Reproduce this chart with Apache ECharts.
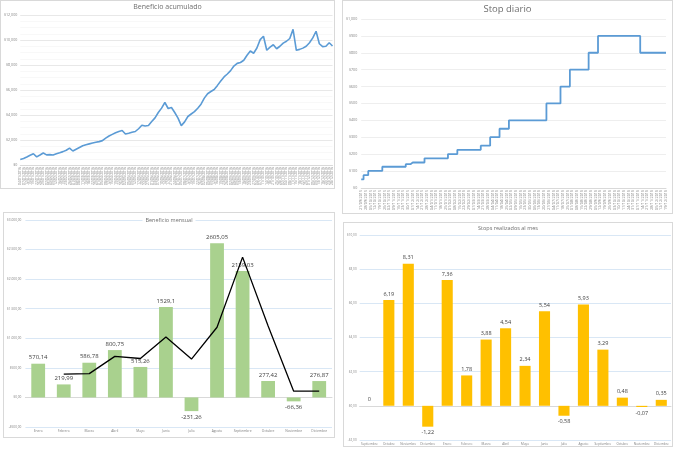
<!DOCTYPE html>
<html><head><meta charset="utf-8">
<script src="https://cdn.jsdelivr.net/npm/echarts@6/dist/echarts.min.js"></script>
<style>
body{margin:0;background:#fff;width:680px;height:451px;position:relative;overflow:hidden}
.p{position:absolute;box-sizing:border-box;border:1px solid #d9d9d9;background:#fff}
</style></head><body>
<div id="tl" class="p" style="left:0;top:0;width:335px;height:189px"></div>
<div id="tr" class="p" style="left:342px;top:0;width:331px;height:214px"></div>
<div id="bl" class="p" style="left:3px;top:212px;width:332px;height:226px"></div>
<div id="br" class="p" style="left:343px;top:222px;width:330px;height:225px"></div>
<script>
// ---------- Beneficio acumulado ----------
const accDates = [
"04/01/2016","07/01/2016","12/01/2016","15/01/2016","19/01/2016","22/01/2016","26/01/2016","29/01/2016",
"02/02/2016","05/02/2016","09/02/2016","12/02/2016","16/02/2016","19/02/2016","23/02/2016","26/02/2016",
"01/03/2016","04/03/2016","08/03/2016","11/03/2016","15/03/2016","18/03/2016","22/03/2016","29/03/2016",
"01/04/2016","05/04/2016","08/04/2016","12/04/2016","15/04/2016","19/04/2016","22/04/2016","26/04/2016",
"02/05/2016","05/05/2016","09/05/2016","12/05/2016","17/05/2016","20/05/2016","24/05/2016","27/05/2016",
"01/06/2016","03/06/2016","07/06/2016","10/06/2016","14/06/2016","17/06/2016","21/06/2016","24/06/2016",
"01/07/2016","05/07/2016","08/07/2016","12/07/2016","15/07/2016","19/07/2016","22/07/2016","26/07/2016",
"02/08/2016","05/08/2016","09/08/2016","12/08/2016","16/08/2016","19/08/2016","23/08/2016","26/08/2016",
"02/09/2016","06/09/2016","09/09/2016","13/09/2016","16/09/2016","20/09/2016","23/09/2016","27/09/2016",
"04/10/2016","07/10/2016","11/10/2016","14/10/2016","18/10/2016","21/10/2016","25/10/2016","28/10/2016",
"02/11/2016","04/11/2016","08/11/2016","11/11/2016","15/11/2016","18/11/2016","22/11/2016","25/11/2016",
"01/12/2016","05/12/2016","09/12/2016","13/12/2016","16/12/2016","20/12/2016","23/12/2016","28/12/2016"];
const accValues = [440,520,640,780,900,650,800,960,810,830,
800,900,980,1070,1180,1350,1120,1260,1400,1540,
1620,1690,1760,1820,1870,1950,2150,2320,2450,2580,
2680,2760,2480,2540,2620,2680,2900,3180,3120,3160,
3480,3770,4200,4550,5000,4520,4600,4200,3750,3150,
3450,3880,4080,4270,4540,4870,5350,5700,5880,6040,
6370,6720,7050,7280,7550,7920,8130,8200,8380,8780,
9120,8940,9360,10030,10300,9180,9430,9620,9300,9500,
9750,9900,10120,10850,9180,9250,9350,9500,9780,10170,
10700,9700,9470,9500,9780,9520];

// ---------- Stop diario ----------
const stopDates = [
"21/09/2015","28/09/2015","05/10/2015","12/10/2015","19/10/2015","26/10/2015","02/11/2015","09/11/2015",
"16/11/2015","23/11/2015","30/11/2015","07/12/2015","14/12/2015","21/12/2015","28/12/2015",
"04/01/2016","11/01/2016","18/01/2016","25/01/2016","01/02/2016","08/02/2016","15/02/2016","22/02/2016",
"29/02/2016","07/03/2016","14/03/2016","21/03/2016","28/03/2016","04/04/2016","11/04/2016","18/04/2016",
"25/04/2016","02/05/2016","09/05/2016","16/05/2016","23/05/2016","30/05/2016","06/06/2016","13/06/2016",
"20/06/2016","27/06/2016","04/07/2016","11/07/2016","18/07/2016","25/07/2016","01/08/2016","08/08/2016",
"15/08/2016","22/08/2016","29/08/2016","05/09/2016","12/09/2016","19/09/2016","26/09/2016","03/10/2016",
"10/10/2016","17/10/2016","24/10/2016","31/10/2016","07/11/2016","14/11/2016","21/11/2016","28/11/2016",
"05/12/2016","12/12/2016","19/12/2016"];
const stopValues = [50,75,100,100,100,125,125,125,125,125,140,150,150,150,
175,175,175,175,175,200,200,225,225,225,225,225,250,250,300,300,350,350,
400,400,400,400,400,400,400,400,500,500,500,600,600,700,700,700,700,
800,800,900,900,900,900,900,900,900,900,900,800,800,800,800,800,800];

// ---------- Beneficio mensual ----------
const months2016 = ["Enero","Febrero","Marzo","Abril","Mayo","Junio","Julio","Agosto","Septiembre","Octubre","Noviembre","Diciembre"];
const monthlyProfit = [570.14,219.99,586.78,800.75,515.26,1529.1,-231.26,2605.05,2139.03,277.42,-66.36,276.87];
const monthlyAvg = [null,395,403,694,658,1022,649,1187,2372,1208,106,105];

// ---------- Stops realizados al mes ----------
const stopMonths = ["Septiembre","Octubre","Noviembre","Diciembre","Enero","Febrero","Marzo","Abril","Mayo","Junio","Julio","Agosto","Septiembre","Octubre","Noviembre","Diciembre"];
const stopsPerMonth = [0,6.19,8.31,-1.22,7.36,1.78,3.88,4.54,2.34,5.54,-0.58,5.93,3.29,0.48,-0.07,0.35];

const FONT = '"Open Sans", "Liberation Sans", sans-serif';
const AX = '#7f7f7f';
function usd(v){const s=Math.abs(v).toString().replace(/\B(?=(\d{3})+(?!\d))/g,',');return (v<0?'-':'')+'$'+s;}
function eur(v){const p=Math.abs(v).toFixed(2).split('.');const i=p[0].replace(/\B(?=(\d{3})+(?!\d))/g,'.');return (v<0?'-':'')+'$'+i+','+p[1];}
function comma(v){return String(v).replace('.',',');}
function titleOpt(t,size,top,bg){return {text:t,left:'center',top:top,textStyle:{fontFamily:FONT,fontSize:size,fontWeight:'normal',color:'#6f6f6f'},backgroundColor:bg||'transparent',padding:[0,3]};}

// TL
echarts.init(document.getElementById('tl'),null,{renderer:'canvas'}).setOption({
  animation:false, textStyle:{fontFamily:FONT},
  title:titleOpt('Beneficio acumulado',7,2),
  grid:{left:15,right:1,top:14,bottom:20},
  xAxis:{type:'category',data:accDates,boundaryGap:false,
    axisLine:{lineStyle:{color:'#d9d9d9'}},axisTick:{show:false},
    axisLabel:{rotate:90,fontSize:3.4,color:AX,interval:0,margin:2}},
  yAxis:{type:'value',min:0,max:12000,interval:2000,
    axisLabel:{fontSize:3.6,color:AX,formatter:usd,margin:3},
    splitLine:{lineStyle:{color:'#d9d9d9',width:0.6}},
    minorTick:{show:false,splitNumber:4},
    minorSplitLine:{show:true,lineStyle:{color:'#f0f0f0',width:0.5}}},
  series:[{type:'line',data:accValues,symbol:'none',lineStyle:{color:'#5b9bd5',width:1.6}}]
});

// TR
echarts.init(document.getElementById('tr')).setOption({
  animation:false, textStyle:{fontFamily:FONT},
  title:titleOpt('Stop diario',9.5,3),
  grid:{left:18,right:6,top:18,bottom:16},
  xAxis:{type:'category',data:stopDates,boundaryGap:false,
    axisLine:{lineStyle:{color:'#d9d9d9'}},axisTick:{show:false},
    axisLabel:{rotate:90,fontSize:3.8,color:AX,interval:0,margin:2}},
  yAxis:{type:'value',min:0,max:1000,interval:100,
    axisLabel:{fontSize:3.6,color:AX,formatter:usd,margin:4},
    splitLine:{lineStyle:{color:'#e3e3e3',width:0.6}}},
  series:[{type:'line',step:'middle',data:stopValues,symbol:'none',lineStyle:{color:'#5b9bd5',width:1.8}}]
});

// BL
echarts.init(document.getElementById('bl')).setOption({
  animation:false, textStyle:{fontFamily:FONT},
  title:titleOpt('Beneficio mensual',5.5,4,'#fff'),
  grid:{left:18,right:2,top:7,bottom:10},
  xAxis:{type:'category',data:months2016,
    axisLine:{lineStyle:{color:'#d9d9d9'}},axisTick:{show:false},
    axisLabel:{fontSize:3.3,color:AX,interval:0,margin:3}},
  yAxis:{type:'value',min:-500,max:3000,interval:500,
    axisLabel:{fontSize:3.2,color:AX,formatter:eur,margin:4},
    splitLine:{lineStyle:{color:'#c9dcf0',width:0.7}}},
  series:[
    {type:'bar',barWidth:'54%',itemStyle:{color:'#a9d18e'},
     data:monthlyProfit.map(v=>({value:v,label:{position:v<0?'bottom':'top'}})),
     label:{show:true,fontSize:6,color:'#404040',distance:3,formatter:p=>comma(p.value)}},
    {type:'line',data:monthlyAvg,symbol:'none',z:5,lineStyle:{color:'#000',width:1.3}}
  ]
});

// BR
echarts.init(document.getElementById('br')).setOption({
  animation:false, textStyle:{fontFamily:FONT},
  title:titleOpt('Stops realizados al mes',5.5,2),
  grid:{left:13,right:1,top:12,bottom:4},
  xAxis:{type:'category',data:stopMonths,
    axisLine:{lineStyle:{color:'#d9d9d9'}},axisTick:{show:false},
    axisLabel:{fontSize:3.1,color:AX,interval:0,margin:3}},
  yAxis:{type:'value',min:-2,max:10,interval:2,
    axisLabel:{fontSize:3.1,color:AX,formatter:eur,margin:3},
    splitLine:{lineStyle:{color:'#c9dcf0',width:0.7}}},
  series:[
    {type:'bar',barWidth:'57%',itemStyle:{color:'#ffc000'},
     data:stopsPerMonth.map(v=>({value:v,label:{position:v<0?'bottom':'top'}})),
     label:{show:true,fontSize:5.5,color:'#404040',distance:3,formatter:p=>comma(p.value)}}
  ]
});
</script>
</body></html>
